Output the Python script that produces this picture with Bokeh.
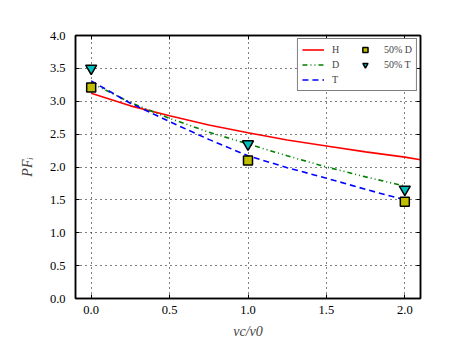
from bokeh.plotting import figure
from bokeh.models import (LinearAxis, Legend, LegendItem, FixedTicker, Range1d,
                          CustomJSTickFormatter)
from bokeh.embed import file_html
from bokeh.resources import INLINE

# ---- data ----
x_h = [0.0, 0.25, 0.5, 0.75, 1.0, 1.25, 1.5, 1.75, 2.0, 2.1]
h_vals = [3.12, 2.93, 2.78, 2.64, 2.52, 2.41, 2.32, 2.23, 2.15, 2.11]
x_dt = [0.0, 0.25, 0.5, 0.75, 1.0, 1.25, 1.5, 1.75, 2.0]
d_vals = [3.28, 2.98, 2.74, 2.53, 2.35, 2.17, 2.00, 1.85, 1.71]
t_vals = [3.31, 2.97, 2.69, 2.42, 2.17, 1.99, 1.83, 1.66, 1.50]
x_pts = [0.0, 1.0, 2.0]
d50 = [3.21, 2.10, 1.47]
t50 = [3.50, 2.35, 1.66]
x_ticks = [0.0, 0.5, 1.0, 1.5, 2.0]
y_ticks = [0.0, 0.5, 1.0, 1.5, 2.0, 2.5, 3.0, 3.5, 4.0]

FONT = "Liberation Serif"

p = figure(frame_width=345, frame_height=263, output_backend="svg",
           toolbar_location=None, x_range=Range1d(-0.1, 2.1), y_range=Range1d(0, 4),
           min_border_left=75, min_border_top=35, min_border_right=20, min_border_bottom=40,
           x_axis_label="νc/ν0", y_axis_label="PFᵢ")
p.background_fill_color = "white"
p.border_fill_color = "white"
p.outline_line_color = "black"
p.outline_line_width = 1.5

for ax in (p.xaxis[0], p.yaxis[0]):
    ax.major_tick_in = 4
    ax.major_tick_out = 0
    ax.minor_tick_line_color = None
    ax.axis_line_width = 1.5
    ax.major_label_text_font = FONT
    ax.major_label_text_font_size = "12.5px"
    ax.major_label_text_color = "black"
    ax.axis_label_text_font = FONT
    ax.axis_label_text_font_size = "14px"
    ax.axis_label_text_font_style = "italic"
p.xaxis[0].ticker = FixedTicker(ticks=x_ticks)
p.yaxis[0].ticker = FixedTicker(ticks=y_ticks)
p.xaxis[0].major_label_standoff = 7
p.yaxis[0].major_label_standoff = 10
p.xaxis[0].axis_label_standoff = 7
p.yaxis[0].axis_label_standoff = 12
p.xaxis[0].major_label_overrides = {t: f"{t:.1f}" for t in x_ticks}
p.yaxis[0].major_label_overrides = {t: f"{t:.1f}" for t in y_ticks}

blank = CustomJSTickFormatter(code="return ''")
top = LinearAxis(ticker=FixedTicker(ticks=x_ticks), formatter=blank,
                 major_tick_in=4, major_tick_out=0, minor_tick_line_color=None, axis_line_width=1.5)
right = LinearAxis(ticker=FixedTicker(ticks=y_ticks), formatter=blank,
                   major_tick_in=4, major_tick_out=0, minor_tick_line_color=None, axis_line_width=1.5)
p.add_layout(top, "above")
p.add_layout(right, "right")

p.xgrid.ticker = FixedTicker(ticks=x_ticks)
p.ygrid.ticker = FixedTicker(ticks=y_ticks)
for g in (p.xgrid[0], p.ygrid[0]):
    g.grid_line_color = "black"
    g.grid_line_dash = "1 4"
    g.grid_line_width = 1

rh = p.line(x_h, h_vals, line_color="#ff0000", line_width=1.6)
rd = p.line(x_dt, d_vals, line_color="#008000", line_width=1.6, line_dash="5 3 1 3 1 3")
rt = p.line(x_dt, t_vals, line_color="#0000ff", line_width=1.6, line_dash="6 4")
rs = p.scatter(x_pts, d50, marker="square", size=9, fill_color="#bfbf00",
               line_color="black", line_width=1.5)
rv = p.scatter(x_pts, t50, marker="inverted_triangle", size=11, fill_color="#00bfbf",
               line_color="black", line_width=1.5)

legend = Legend(items=[LegendItem(label="H", renderers=[rh]),
                       LegendItem(label="D", renderers=[rd]),
                       LegendItem(label="T", renderers=[rt]),
                       LegendItem(label="50% D", renderers=[rs]),
                       LegendItem(label="50% T", renderers=[rv])],
                location="top_right", ncols=2)
legend.label_text_font = FONT
legend.label_text_font_size = "10px"
legend.glyph_width = 22
legend.glyph_height = 13
legend.label_standoff = 8
legend.spacing = 2
legend.padding = 4
legend.margin = 3
legend.border_line_color = "black"
legend.border_line_width = 1.5
legend.background_fill_alpha = 1
p.add_layout(legend)

open("out.html", "w").write(file_html(p, INLINE))
